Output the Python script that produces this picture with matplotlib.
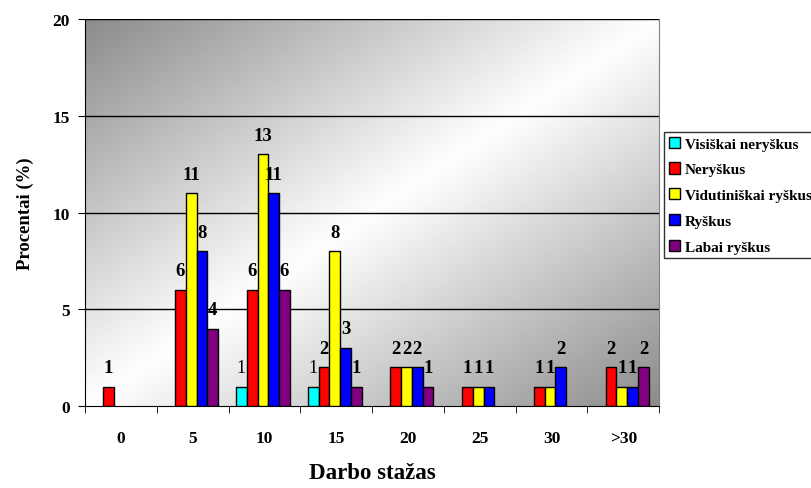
import numpy as np
import matplotlib.pyplot as plt
from matplotlib.colors import LinearSegmentedColormap
from matplotlib.patches import Patch

categories = ["0", "5", "10", "15", "20", "25", "30", ">30"]
series_names = ["Visiškai neryškus", "Neryškus", "Vidutiniškai ryškus", "Ryškus", "Labai ryškus"]
visiskai_neryskus = [0, 0, 1, 1, 0, 0, 0, 0]
neryskus = [1, 6, 6, 2, 2, 1, 1, 2]
vidutiniskai_ryskus = [0, 11, 13, 8, 2, 1, 1, 1]
ryskus = [0, 8, 11, 3, 2, 1, 2, 1]
labai_ryskus = [0, 4, 6, 1, 1, 0, 0, 2]
colors = ["#00ffff", "#ff0000", "#ffff00", "#0000ff", "#800080"]

series = [visiskai_neryskus, neryskus, vidutiniskai_ryskus, ryskus, labai_ryskus]

plt.rcParams['font.family'] = ['Liberation Serif', 'DejaVu Serif']

fig = plt.figure(figsize=(8.11, 4.89), dpi=100)
ax = fig.add_axes([0.1048, 0.1677, 0.708, 0.7913])

# gradient background: dark top-left -> light middle -> dark bottom-right
n = 300
xx, yy = np.meshgrid(np.linspace(0, 1, n), np.linspace(1, 0, n))
d = (xx + (1 - yy)) / 2.0
cmap = LinearSegmentedColormap.from_list("bg", [(0.0, "#8c8c8c"), (0.5, "#ffffff"), (1.0, "#8c8c8c")])
ax.imshow(d, extent=[-0.5, len(categories) - 0.5, 0, 20], aspect='auto', cmap=cmap,
          vmin=0, vmax=1, zorder=0, origin='upper')

x = np.arange(len(categories))
w = 0.15
for i, (vals, col) in enumerate(zip(series, colors)):
    pos = x + (i - 2) * w - 0.02
    vals = np.array(vals)
    keep = vals > 0
    ax.bar(pos[keep], vals[keep], width=w, color=col, edgecolor='black', linewidth=1, zorder=3)
    for p, v in zip(pos[keep], vals[keep]):
        if i == 0:
            ax.text(p, v + 0.55, str(v), ha='center', va='bottom', fontsize=13, zorder=4)
        else:
            ax.text(p, v + 0.55, str(v), ha='center', va='bottom', fontsize=13.5,
                    fontweight='bold', zorder=4)

ax.set_xlim(-0.5, len(categories) - 0.5)
ax.set_ylim(0, 20)
ax.set_yticks([0, 5, 10, 15, 20])
for yv in [5, 10, 15, 20]:
    ax.axhline(yv, color='black', linewidth=1, zorder=1)

ax.set_xticks(x)
ax.set_xticklabels(categories, fontsize=12.5, fontweight='bold')
ax.set_xticks(np.arange(-0.5, len(categories), 1), minor=True)
ax.tick_params(axis='x', which='major', length=0, pad=17)
ax.tick_params(axis='x', which='minor', length=5, direction='out')
ax.tick_params(axis='y', length=5, direction='out', labelsize=12.5, pad=6)
for lab in ax.get_yticklabels():
    lab.set_fontweight('bold')

ax.spines['top'].set_visible(False)
ax.spines['right'].set_color('#808080')
ax.spines['left'].set_color('black')
ax.spines['bottom'].set_color('black')

ax.set_ylabel("Procentai (%)", fontsize=13.5, fontweight='bold', labelpad=13)
ax.set_xlabel("Darbo stažas", fontsize=16.5, fontweight='bold', labelpad=12)

handles = [Patch(facecolor=c, edgecolor='black', label=s) for c, s in zip(colors, series_names)]
leg = fig.legend(handles=handles, loc='upper left', bbox_to_anchor=(0.8187, 0.728),
                 frameon=True, fancybox=False, edgecolor='black',
                 prop={'weight': 'bold', 'size': 11}, handlelength=0.75, handleheight=0.75,
                 handletextpad=0.3, labelspacing=0.78, borderpad=0.3, borderaxespad=0)
leg.get_frame().set_linewidth(1)

fig.savefig("out.png", dpi=100)
